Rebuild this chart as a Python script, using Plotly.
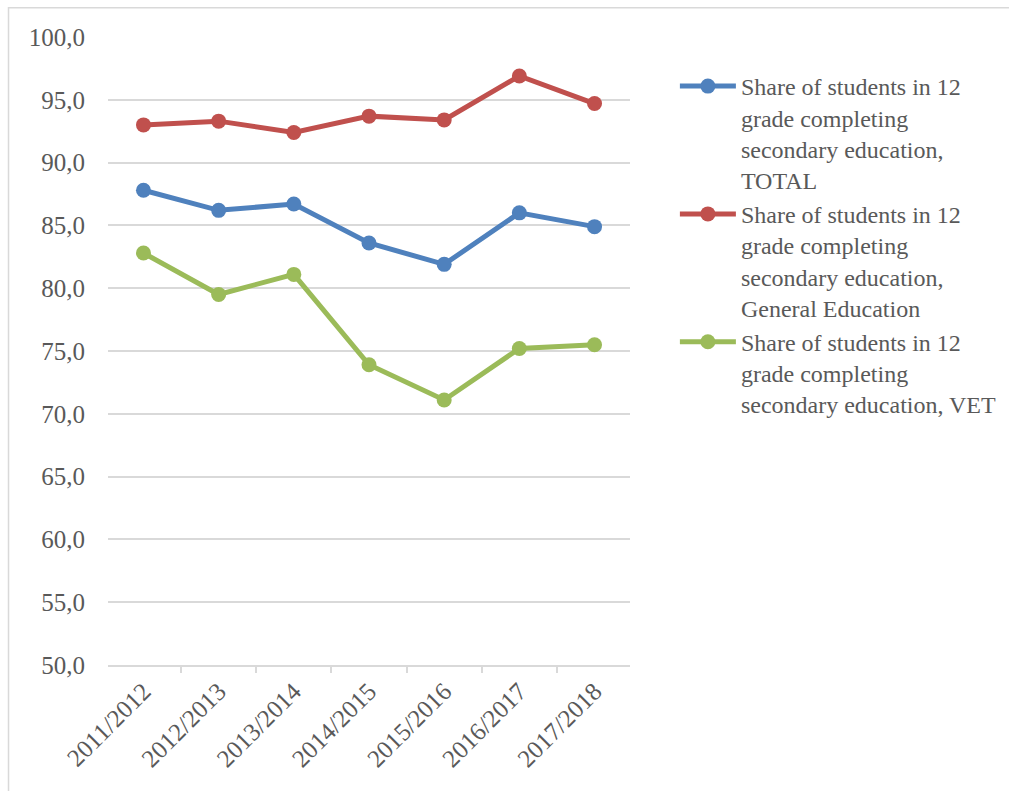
import plotly.graph_objects as go

# School years on the category axis
years = ["2011/2012", "2012/2013", "2013/2014", "2014/2015",
         "2015/2016", "2016/2017", "2017/2018"]

# Share of 12th-grade students completing secondary education (%)
total = [87.8, 86.2, 86.7, 83.6, 81.9, 86.0, 84.9]
general_edu = [93.0, 93.3, 92.4, 93.7, 93.4, 96.9, 94.7]
vet = [82.8, 79.5, 81.1, 73.9, 71.1, 75.2, 75.5]

series_names = [
    "Share of students in 12<br>grade completing<br>secondary education,<br>TOTAL",
    "Share of students in 12<br>grade completing<br>secondary education,<br>General Education",
    "Share of students in 12<br>grade completing<br>secondary education, VET",
]
series_values = [total, general_edu, vet]
series_colors = ["#4F81BD", "#C0504D", "#9BBB59"]

FONT = "Liberation Serif"
TEXT_GRAY = "#595959"
GRID_GRAY = "#d9d9d9"

fig = go.Figure()
for name, vals, col in zip(series_names, series_values, series_colors):
    fig.add_trace(go.Scatter(
        x=years, y=vals, name=name, mode="lines+markers",
        line=dict(color=col, width=5),
        marker=dict(color=col, size=15),
    ))

fig.update_layout(
    width=1009, height=791,
    margin=dict(l=108, r=379, t=37, b=126, autoexpand=False),
    paper_bgcolor="white", plot_bgcolor="white",
    separators=",.",
    font=dict(family=FONT, size=24, color=TEXT_GRAY),
    showlegend=True,
    legend=dict(
        x=1.086, y=0.957, xanchor="left", yanchor="top",
        valign="top", itemwidth=56,
        font=dict(family=FONT, size=24, color=TEXT_GRAY),
        bgcolor="rgba(0,0,0,0)",
    ),
    xaxis=dict(
        type="category", tickson="boundaries",
        ticks="outside", ticklen=6, tickcolor=GRID_GRAY, tickwidth=1.5,
        showline=True, linecolor=GRID_GRAY, linewidth=1.5,
        showgrid=False, tickangle=-45,
        tickfont=dict(family=FONT, size=25, color=TEXT_GRAY),
    ),
    yaxis=dict(
        range=[50, 100], dtick=5, tickformat=".1f",
        showgrid=True, gridcolor=GRID_GRAY, gridwidth=1.5,
        zeroline=False, showline=False, ticks="",
        tickfont=dict(family=FONT, size=25, color=TEXT_GRAY),
        ticklabelstandoff=22,
    ),
    shapes=[
        # outer chart frame (top and left edges visible)
        dict(type="rect", xref="paper", yref="paper",
             x0=-0.1906, x1=1.9, y0=-0.4, y1=1.0465,
             line=dict(color=GRID_GRAY, width=1.5), fillcolor="rgba(0,0,0,0)",
             layer="below"),
    ],
)

fig.write_html("out.html")
